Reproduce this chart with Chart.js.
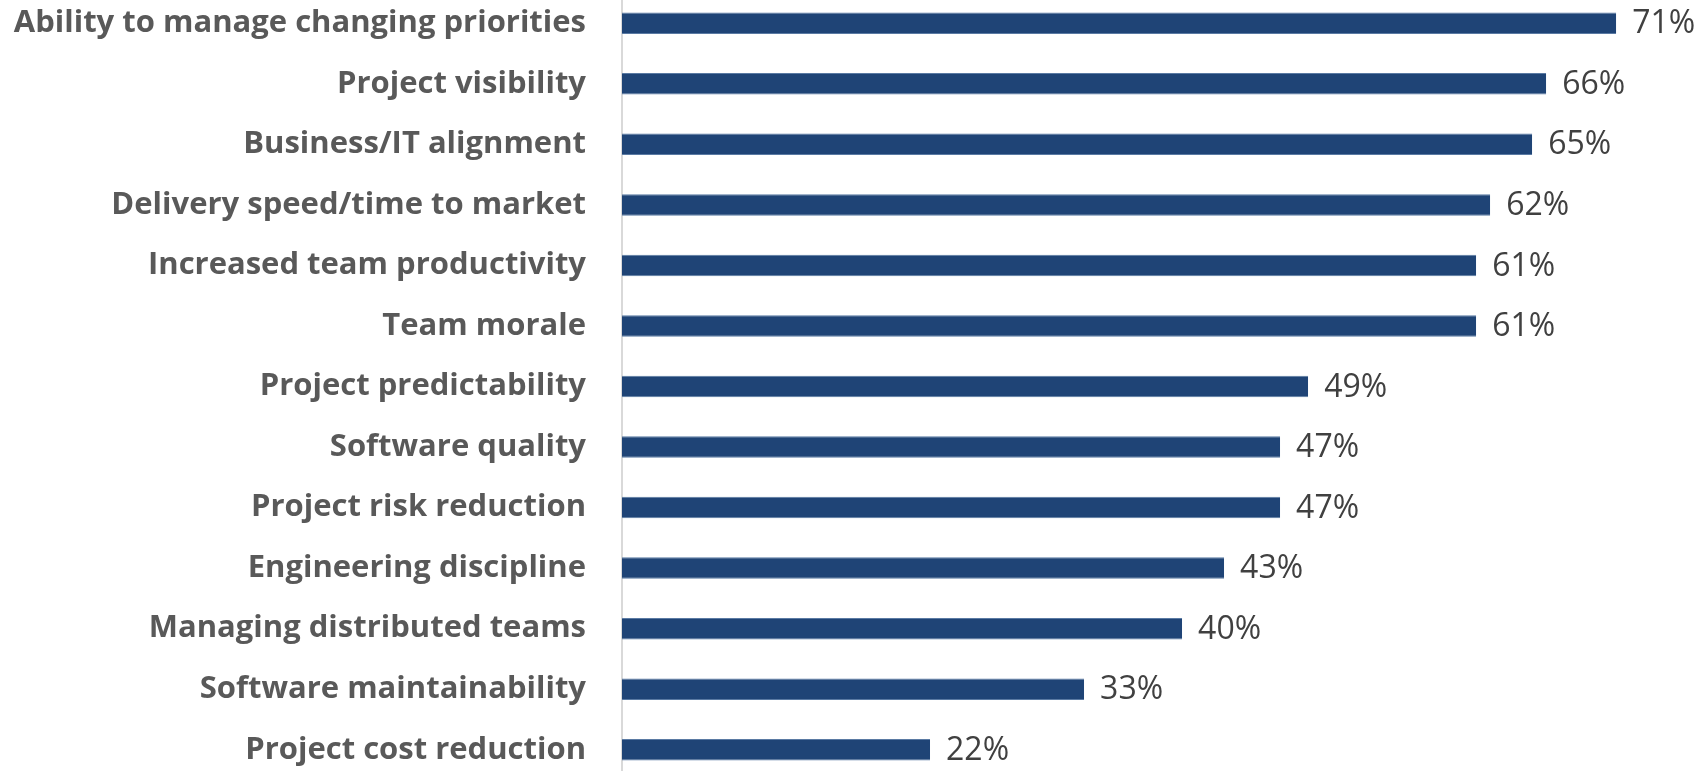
<!DOCTYPE html>
<html lang="en">
<head>
  <meta charset="UTF-8">
  <title>Agile benefits</title>
  <script src="https://cdn.jsdelivr.net/npm/chart.js"></script>
  <style>
    html, body {
      margin: 0;
      padding: 0;
      background: #fff;
      overflow: hidden;
      width: 1703px;
      height: 771px;
    }
    .chart-box {
      position: absolute;
      left: 0;
      top: -7.5px;
      width: 1703px;
      height: 787px;
    }
  </style>
</head>
<body>
  <div class="chart-box">
    <canvas id="benefitChart"></canvas>
  </div>

  <script>
    // Values
    const categories = [
      'Ability to manage changing priorities',
      'Project visibility',
      'Business/IT alignment',
      'Delivery speed/time to market',
      'Increased team productivity',
      'Team morale',
      'Project predictability',
      'Software quality',
      'Project risk reduction',
      'Engineering discipline',
      'Managing distributed teams',
      'Software maintainability',
      'Project cost reduction'
    ];
    const percentages = [71, 66, 65, 62, 61, 61, 49, 47, 47, 43, 40, 33, 22];

    // draws "NN%" just right of each bar
    const valueLabels = {
      id: 'valueLabels',
      afterDatasetsDraw(chart) {
        const ctx = chart.ctx;
        const meta = chart.getDatasetMeta(0);
        ctx.save();
        ctx.font = '32px "Open Sans"';
        ctx.fillStyle = '#404040';
        ctx.textAlign = 'left';
        ctx.textBaseline = 'middle';
        meta.data.forEach((bar, i) => {
          ctx.fillText(percentages[i] + '%', bar.x + 16, bar.y + 1);
        });
        ctx.restore();
      }
    };

    const ctx = document.getElementById('benefitChart').getContext('2d');
    new Chart(ctx, {
      type: 'bar',
      data: {
        labels: categories,
        datasets: [{
          data: percentages,
          backgroundColor: '#1f4476',
          borderColor: '#5a7aa3',
          borderWidth: { top: 1, bottom: 1, right: 0, left: 0 },
          borderSkipped: 'left',
          categoryPercentage: 1,
          barPercentage: 0.355
        }]
      },
      options: {
        indexAxis: 'y',
        responsive: true,
        maintainAspectRatio: false,
        animation: false,
        layout: { padding: 0, autoPadding: false },
        plugins: {
          legend: { display: false },
          tooltip: { enabled: false }
        },
        scales: {
          x: {
            display: false,
            min: 0,
            max: 77.2
          },
          y: {
            afterFit(scale) {
              scale.width = 622;
              scale.paddingTop = 0;
              scale.paddingBottom = 0;
            },
            grid: { display: false, drawTicks: false },
            border: { display: true, color: '#d9d9d9', width: 2 },
            ticks: {
              color: '#595959',
              font: { family: 'Open Sans', size: 31, weight: 'bold' },
              padding: 36
            }
          }
        }
      },
      plugins: [valueLabels]
    });
  </script>
</body>
</html>
